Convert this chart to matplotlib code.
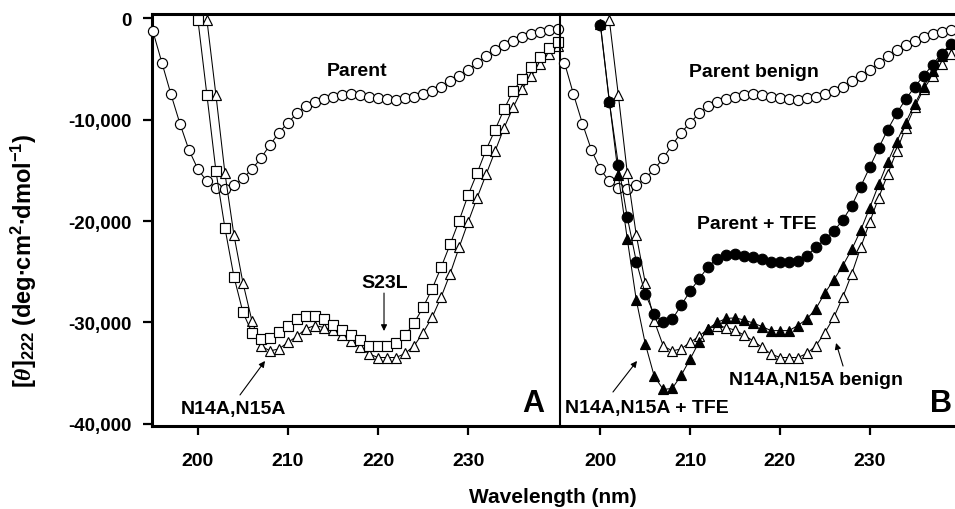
import numpy as np
import matplotlib
matplotlib.use('Agg')
import matplotlib.pyplot as plt
from matplotlib.ticker import FuncFormatter, FixedLocator

plt.rcParams['font.family'] = ['Liberation Sans', 'DejaVu Sans']
plt.rcParams['font.weight'] = 'bold'
plt.rcParams['mathtext.fontset'] = 'custom'
plt.rcParams['mathtext.rm'] = 'Liberation Sans'
plt.rcParams['mathtext.bf'] = 'Liberation Sans:bold'
plt.rcParams['mathtext.it'] = 'Liberation Serif:italic'

# ---------------- data ----------------
wl_parent = np.arange(195, 241)
parent = [-1300, -4400, -7500, -10400, -13000, -14900, -16100, -16700, -16800, -16500,
          -15800, -14900, -13800, -12500, -11300, -10300, -9400, -8700, -8300, -8000,
          -7750, -7600, -7500, -7600, -7750, -7900, -8000, -8050, -7900, -7750,
          -7500, -7200, -6800, -6250, -5700, -5100, -4450, -3750, -3150, -2700,
          -2300, -1900, -1600, -1380, -1200, -1100]

wl_s23l = np.arange(200, 241)
s23l = [-200, -7600, -15100, -20700, -25500, -29000, -31000, -31650, -31550, -30950,
        -30300, -29650, -29350, -29400, -29650, -30200, -30700, -31200, -31750, -32350,
        -32350, -32350, -32050, -31250, -30050, -28500, -26700, -24560, -22300, -19970,
        -17440, -15270, -12970, -11000, -8970, -7160, -6010, -4860, -3870, -2990, -2400]

wl_n14a = np.arange(201, 241)
n14a = [-200, -7600, -15300, -21400, -26100, -29850, -32300, -32800, -32600, -31950,
        -31350, -30600, -30300, -30500, -30750, -31250, -31800, -32450, -33100, -33450,
        -33450, -33450, -33050, -32300, -31000, -29500, -27500, -25200, -22600, -20100,
        -17700, -15400, -13100, -10800, -8800, -7000, -5700, -4500, -3500, -2800]

wl_tfe = np.arange(200, 240)
parent_tfe = [-700, -8300, -14450, -19640, -24000, -27200, -29200, -30000, -29700, -28300,
              -26900, -25700, -24500, -23700, -23350, -23250, -23400, -23500, -23700, -24000,
              -24070, -24000, -23900, -23400, -22600, -21800, -21000, -19900, -18500, -16600,
              -14700, -12800, -11000, -9400, -8000, -6800, -5700, -4600, -3500, -2600]
n14a_tfe = [-600, -8200, -15500, -21800, -27800, -32100, -35300, -36600, -36500, -35200,
            -33600, -31900, -30600, -30000, -29600, -29550, -29750, -30050, -30400, -30800,
            -30800, -30800, -30300, -29650, -28650, -27100, -25800, -24400, -22800, -20900,
            -18700, -16400, -14200, -12200, -10300, -8500, -6800, -5200, -3700, -2600]

xticks = [200, 210, 220, 230]
yticks = [0, -10000, -20000, -30000, -40000]

# ---------------- figure ----------------
W, H = 955, 510
fig = plt.figure(figsize=(W / 100, H / 100), dpi=100)


def rect(x0, x1, y0, y1):
    return [x0 / W, 1 - y1 / H, (x1 - x0) / W, (y1 - y0) / H]


axA = fig.add_axes(rect(152, 560, 15, 427))
axB = fig.add_axes(rect(560, 955, 15, 427))

xlimA = (194.9, 240.2)
xlimB = (195.5, 239.5)
ylim = (-40200, 400)

line_kw = dict(color='black', lw=0.75, clip_on=False, mec='black', mew=0.85)


def inrange(wl, vals, xl):
    wl = np.asarray(wl)
    vals = np.asarray(vals)
    m = (wl >= xl[0]) & (wl <= xl[1])
    return wl[m], vals[m]


# Panel A
x, y = inrange(wl_parent, parent, xlimA)
axA.plot(x, y, marker='o', ms=7.3, mfc='white', **line_kw, zorder=3)
x, y = inrange(wl_n14a, n14a, xlimA)
axA.plot(x, y, marker='^', ms=7.8, mfc='white', **line_kw, zorder=3)
x, y = inrange(wl_s23l, s23l, xlimA)
axA.plot(x, y, marker='s', ms=6.9, mfc='white', **line_kw, zorder=4)

# Panel B
x, y = inrange(wl_parent, parent, xlimB)
axB.plot(x, y, marker='o', ms=7.3, mfc='white', **line_kw, zorder=3)
x, y = inrange(wl_n14a, n14a, xlimB)
axB.plot(x, y, marker='^', ms=7.8, mfc='white', **line_kw, zorder=3)
x, y = inrange(wl_tfe, n14a_tfe, xlimB)
axB.plot(x, y, marker='^', ms=7.6, mfc='black', **line_kw, zorder=4)
x, y = inrange(wl_tfe, parent_tfe, xlimB)
axB.plot(x, y, marker='o', ms=7.6, mfc='black', **line_kw, zorder=4)

fmt = FuncFormatter(lambda v, p: f'{int(round(v)):,}')

for ax, xl in ((axA, xlimA), (axB, xlimB)):
    ax.set_xlim(*xl)
    ax.set_ylim(*ylim)
    ax.xaxis.set_major_locator(FixedLocator(xticks))
    ax.yaxis.set_major_locator(FixedLocator(yticks))
    ax.yaxis.set_major_formatter(fmt)
    ax.spines['right'].set_visible(False)
    ax.spines['top'].set_linewidth(2.2)
    ax.spines['bottom'].set_linewidth(2.2)
    ax.tick_params(axis='x', direction='out', length=6.5, width=1.6, pad=12,
                   labelsize=14)
    ax.set_facecolor('none')
    for lab in ax.get_xticklabels():
        lab.set_fontweight('bold')

axA.spines['left'].set_linewidth(2.2)
axA.tick_params(axis='y', direction='out', length=6.5, width=1.6, pad=8,
                labelsize=13.5)
for lab in axA.get_yticklabels():
    lab.set_fontweight('bold')

axB.spines['left'].set_linewidth(1.5)
axB.tick_params(axis='y', left=False, labelleft=False)

# ---------------- annotations ----------------
tkw = dict(fontsize=14, fontweight='bold', ha='center', va='center')
arrow = dict(arrowstyle='-|>', lw=0.8, color='black', mutation_scale=9,
             shrinkA=0, shrinkB=0)

axA.text(217.66, -5120, 'Parent', **tkw)
axA.text(220.77, -26100, 'S23L', **tkw)
axA.annotate('', xy=(220.66, -30840), xytext=(220.66, -27100), arrowprops=arrow)
axA.text(204.0, -38520, 'N14A,N15A', **tkw)
axA.annotate('', xy=(207.45, -33790), xytext=(204.67, -37140), arrowprops=arrow)
axA.text(237.2, -37930, 'A', fontsize=22, fontweight='bold', ha='center', va='center')

axB.text(217.11, -5270, 'Parent benign', **tkw)
axB.text(217.45, -20240, 'Parent + TFE', **tkw)
axB.text(224.02, -35570, 'N14A,N15A benign', **tkw)
axB.annotate('', xy=(226.25, -32020), xytext=(227.03, -34290), arrowprops=arrow)
axB.text(196.06, -38420, 'N14A,N15A + TFE', fontsize=14, fontweight='bold',
         ha='left', va='center')
axB.annotate('', xy=(204.08, -33790), xytext=(201.4, -36850), arrowprops=arrow)
axB.text(239.17, -37930, 'B', fontsize=22, fontweight='bold', ha='right', va='center')

fig.text(24 / W, 1 - 261 / H,
         r'$[\mathit{\theta}]_{222}\ \mathbf{(deg{\bullet}cm^{2}{\bullet}dmol^{-1})}$',
         rotation=90, ha='center', va='center', fontsize=17)
fig.text(553 / W, 1 - 498 / H, 'Wavelength (nm)', ha='center', va='center',
         fontsize=15, fontweight='bold')

fig.savefig('out.png', dpi=100)
